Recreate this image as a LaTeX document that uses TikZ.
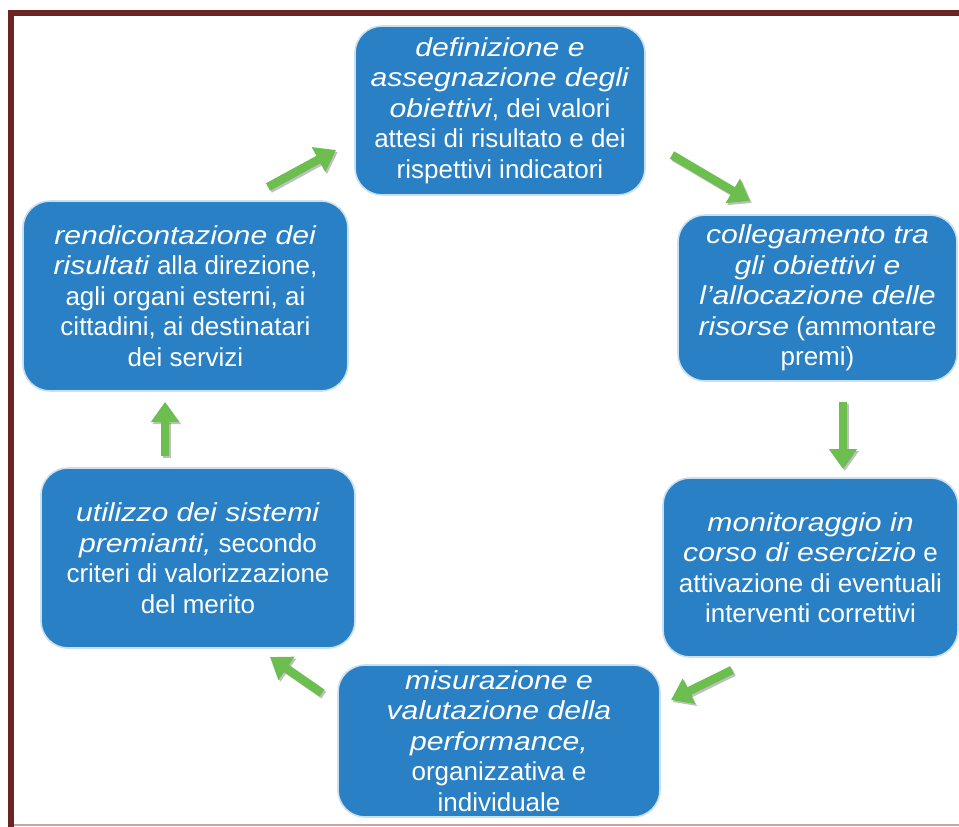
\documentclass[tikz,border=0pt]{standalone}
\usepackage{fontspec}
\setmainfont{Liberation Sans}[ItalicFeatures={FakeStretch=1.16}]
\usetikzlibrary{arrows.meta}
\definecolor{boxblue}{HTML}{2A80C4}
\definecolor{boxrim}{HTML}{C9DFF2}
\definecolor{arrowgreen}{HTML}{6CBF4F}
\definecolor{framered}{HTML}{6A2522}
\definecolor{framepink}{HTML}{C9A3A3}
\tikzset{
  stage/.style={draw=boxrim, line width=1.6pt, fill=boxblue, rounded corners=27pt,
    inner sep=0pt, align=center, text=white,
    font=\fontsize{26}{30.5}\selectfont},
  flowarrow/.style={draw=arrowgreen, line width=8.5pt,
    -{Triangle[length=20pt,width=27pt]}},
  flowshadow/.style={draw=black!55, opacity=0.45, line width=8.5pt,
    -{Triangle[length=20pt,width=27pt]}, transform canvas={shift={(1.8pt,-2pt)}}}
}
\begin{document}
\begin{tikzpicture}[x=1pt,y=-1pt]
\useasboundingbox (0,0) rectangle (959,827);
\fill[white] (0,0) rectangle (959,827);

% frame
\fill[framered] (8,10) rectangle (959,16);
\fill[framered] (8,10) rectangle (14,827);
\fill[framepink] (14,824.2) rectangle (959,826);

% stages of the cycle
\node[stage, minimum width=290pt, minimum height=169pt] (def) at (500,110.5)
  {\textit{definizione e}\\ \textit{assegnazione degli}\\ \textit{obiettivi}, dei valori\\ attesi di risultato e dei\\ rispettivi indicatori};
\node[stage, minimum width=279pt, minimum height=166pt] (col) at (817.5,298)
  {\textit{collegamento tra}\\ \textit{gli obiettivi e}\\ \textit{l’allocazione delle}\\ \textit{risorse} (ammontare\\ premi)};
\node[stage, minimum width=295pt, minimum height=179pt] (mon) at (810.5,567.5)
  {\textit{monitoraggio in}\\ \textit{corso di esercizio} e\\ attivazione di eventuali\\ interventi correttivi};
\node[stage, minimum width=322pt, minimum height=152pt] (mis) at (499,741)
  {\textit{misurazione e}\\ \textit{valutazione della}\\ \textit{performance,}\\ organizzativa e\\ individuale};
\node[stage, minimum width=314pt, minimum height=180pt] (uti) at (198,558)
  {\textit{utilizzo dei sistemi}\\ \textit{premianti,} secondo\\ criteri di valorizzazione\\ del merito};
\node[stage, minimum width=325pt, minimum height=190pt] (ren) at (185.5,296)
  {\textit{rendicontazione dei}\\ \textit{risultati} alla direzione,\\ agli organi esterni, ai\\ cittadini, ai destinatari\\ dei servizi};

% arrow ends between the stages
\coordinate (r2d-s) at (268,187);  \coordinate (r2d-e) at (336,150);
\coordinate (d2c-s) at (672,155);  \coordinate (d2c-e) at (750,201);
\coordinate (c2m-s) at (843,402);  \coordinate (c2m-e) at (843,469);
\coordinate (m2s-s) at (732,670);  \coordinate (m2s-e) at (671,700);
\coordinate (s2u-s) at (322,693);  \coordinate (s2u-e) at (270,657);
\coordinate (u2r-s) at (165,456);  \coordinate (u2r-e) at (165,402);

\foreach \a in {r2d,d2c,c2m,m2s,s2u,u2r}{
  \draw[flowshadow] (\a-s) -- (\a-e);
  \draw[flowarrow] (\a-s) -- (\a-e);
}
\end{tikzpicture}
\end{document}
